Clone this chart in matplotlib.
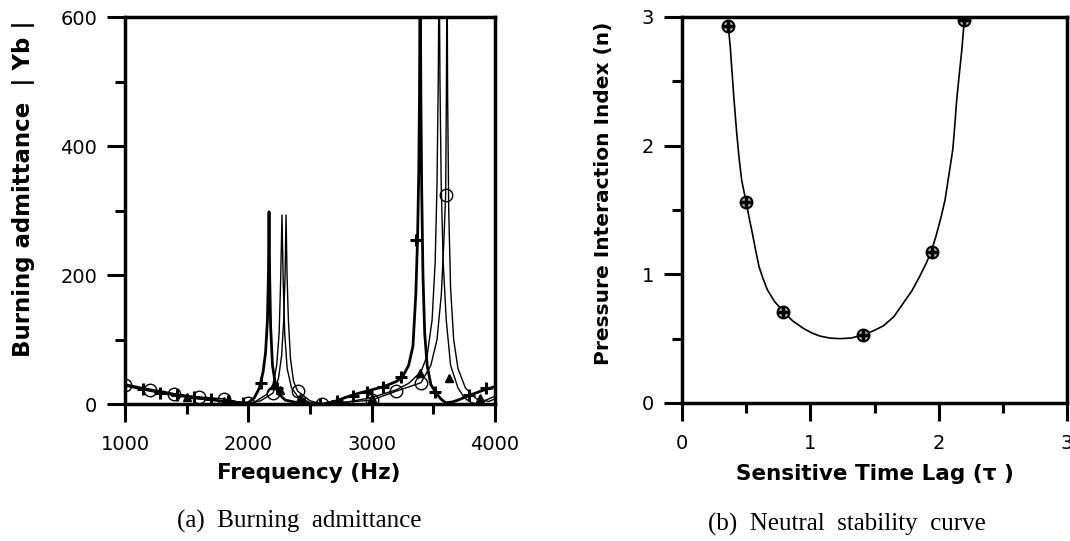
import matplotlib
matplotlib.use("Agg")
from matplotlib import pyplot as plt
from matplotlib.ticker import MultipleLocator

plt.rcParams['font.family'] = ['DejaVu Sans']

# (a) burning admittance curves
plus_f = [1000, 1100, 1200, 1300, 1400, 1500, 1600, 1700, 1800, 1900, 2000, 2050,
          2090, 2120, 2140, 2155, 2163, 2168, 2173, 2181, 2196, 2220, 2250, 2300,
          2400, 2500, 2600, 2700, 2800, 2900, 3000, 3100, 3200, 3250, 3300, 3335,
          3358, 3372, 3382, 3388, 3393, 3399, 3406, 3416, 3430, 3450, 3480, 3520,
          3560, 3600, 3650, 3700, 3800, 3900, 4000]
plus_y = [30, 26, 22, 19, 15, 12, 9, 7, 4, 2, 2, 10,
          25, 50, 80, 130, 200, 298, 200, 120, 60, 30, 15, 6,
          2, 0, 0, 4, 11, 17, 22, 27, 35, 42, 60, 90,
          170, 254, 360, 480, 700, 480, 330, 200, 110, 60, 30, 18,
          8, 2, 3, 6, 14, 21, 27]
plus_mf = [1150, 1285, 1420, 1560, 1700, 1835, 1960, 2100, 2230, 2450, 2580, 2720,
           2850, 2960, 3090, 3240, 3360, 3510, 3790, 3930]
plus_my = [24, 17, 14, 11, 8, 5, 2, 32, 25, 1, 0, 5,
           12, 19, 26, 42, 254, 19, 14, 25]

tri_f = [1000, 1200, 1400, 1600, 1800, 1950, 2050, 2150, 2200, 2230, 2250, 2262,
         2273, 2283, 2295, 2315, 2350, 2400, 2500, 2600, 2800, 3000, 3200, 3300,
         3400, 3450, 3490, 3515, 3530, 3540, 3547, 3554, 3564, 3580, 3605, 3640,
         3700, 3750, 3800, 3850, 3900, 4000]
tri_y = [28, 20, 13, 8, 4, 0, 3, 15, 30, 60, 110, 190,
         293, 190, 110, 55, 25, 12, 2, 0, 3, 10, 22, 32,
         50, 75, 130, 220, 340, 500, 700, 500, 340, 220, 130, 60,
         25, 10, 3, 0, 4, 12]
tri_mf = [1500, 1800, 2210, 2260, 2420, 3000, 3390, 3630, 3880]
tri_my = [11, 4, 30, 22, 10, 10, 48, 40, 9]

circ_f = [1000, 1200, 1400, 1600, 1800, 1900, 2000, 2100, 2200, 2245, 2270, 2287,
          2298, 2306, 2314, 2325, 2342, 2367, 2400, 2500, 2600, 2800, 3000, 3200,
          3400, 3480, 3530, 3565, 3585, 3600, 3606, 3611, 3616, 3625, 3640, 3665,
          3700, 3760, 3850, 3950, 4000]
circ_y = [29, 22, 15, 11, 8, 4, 1, 5, 17, 40, 75, 130,
          200, 293, 200, 130, 70, 35, 20, 5, 0, 3, 6, 20,
          33, 60, 100, 170, 250, 324, 480, 700, 480, 300, 180, 100,
          55, 25, 8, 4, 8]
circ_mf = [1000, 1200, 1400, 1600, 1800, 2000, 2200, 2400, 2600, 3000, 3200, 3400, 3600]
circ_my = [29, 22, 15, 11, 8, 1, 17, 20, 0, 6, 20, 33, 324]

# (b) neutral stability curve
tau_pts = [0.36, 0.5, 0.79, 1.41, 1.95, 2.2]
n_pts = [2.93, 1.56, 0.71, 0.53, 1.17, 2.98]
tau_curve = [0.36, 0.375, 0.387, 0.405, 0.426, 0.445, 0.465, 0.5, 0.525, 0.548, 0.575,
             0.60, 0.63, 0.665, 0.72, 0.79, 0.86, 0.945, 1.01, 1.075, 1.15, 1.23,
             1.32, 1.41, 1.49, 1.57, 1.65, 1.72, 1.79, 1.85, 1.90, 1.94, 1.98,
             2.02, 2.05, 2.07, 2.09, 2.11, 2.125, 2.14, 2.16, 2.18, 2.2]
n_curve = [2.93, 2.78, 2.61, 2.36, 2.10, 1.90, 1.73, 1.56, 1.43, 1.32, 1.18,
           1.06, 0.97, 0.88, 0.79, 0.71, 0.64, 0.58, 0.545, 0.52, 0.505, 0.50,
           0.505, 0.53, 0.56, 0.60, 0.67, 0.77, 0.87, 0.98, 1.08, 1.17, 1.30,
           1.45, 1.58, 1.71, 1.84, 1.97, 2.15, 2.35, 2.55, 2.74, 2.98]

fig = plt.figure(figsize=(10.7, 5.41), dpi=100)
ax1 = fig.add_axes([0.1168, 0.2532, 0.3458, 0.7153])
ax2 = fig.add_axes([0.6374, 0.2551, 0.3598, 0.7135])

# Left plot
ax1.plot(circ_f, circ_y, c='black', lw=1.0)
ax1.plot(tri_f, tri_y, c='black', lw=1.0)
ax1.plot(plus_f, plus_y, c='black', lw=2.0)
ax1.plot(circ_mf, circ_my, ls='none', marker='o', ms=9, mfc='none', mec='black', mew=1.0)
ax1.plot(tri_mf, tri_my, ls='none', marker='^', ms=6, c='black')
ax1.plot(plus_mf, plus_my, ls='none', marker='+', ms=9, mew=2.2, c='black')
ax1.set_xlim(1000, 4000)
ax1.set_ylim(0, 600)
ax1.xaxis.set_major_locator(MultipleLocator(1000))
ax1.xaxis.set_minor_locator(MultipleLocator(500))
ax1.yaxis.set_major_locator(MultipleLocator(200))
ax1.yaxis.set_minor_locator(MultipleLocator(100))
ax1.set_xlabel("Frequency (Hz)", fontsize=15.5, fontweight='bold')
ax1.set_ylabel("Burning admittance  | Yb |", fontsize=16.5, fontweight='bold')
ax1.xaxis.set_label_coords(0.497, -0.178)
ax1.xaxis.label.set_va('center')
ax1.yaxis.set_label_coords(-0.273, 0.556)
ax1.yaxis.label.set_va('center')

# Right plot
ax2.plot(tau_curve, n_curve, c='black', lw=1.2)
ax2.plot(tau_pts, n_pts, ls='none', marker='o', ms=8.5, mfc='#bbbbbb', mec='black', mew=1.5)
ax2.plot(tau_pts, n_pts, ls='none', marker='+', ms=8, mew=2.5, c='black')
ax2.set_xlim(0, 3)
ax2.set_ylim(0, 3)
ax2.xaxis.set_major_locator(MultipleLocator(1))
ax2.xaxis.set_minor_locator(MultipleLocator(0.5))
ax2.yaxis.set_major_locator(MultipleLocator(1))
ax2.yaxis.set_minor_locator(MultipleLocator(0.5))
ax2.set_xlabel("Sensitive Time Lag (\u03c4 )", fontsize=15.5, fontweight='bold')
ax2.set_ylabel("Pressure Interaction Index (n)", fontsize=14.5, fontweight='bold')
ax2.xaxis.set_label_coords(0.501, -0.184)
ax2.xaxis.label.set_va('center')
ax2.yaxis.set_label_coords(-0.205, 0.544)
ax2.yaxis.label.set_va('center')

for ax in (ax1, ax2):
    for s in ax.spines.values():
        s.set_linewidth(2.5)
    ax.tick_params(which='major', direction='out', length=13, width=2.2, labelsize=14, pad=7)
    ax.tick_params(which='minor', direction='out', length=7, width=2.2)
    ax.tick_params(axis='x', which='major', pad=9)

fig.text(299 / 1070, 1 - 521 / 541, "(a)  Burning  admittance", fontsize=18,
         family='Liberation Serif', ha='center', va='center')
fig.text(847 / 1070, 1 - 524 / 541, "(b)  Neutral  stability  curve", fontsize=18,
         family='Liberation Serif', ha='center', va='center')

plt.savefig("out.png", dpi=100)
